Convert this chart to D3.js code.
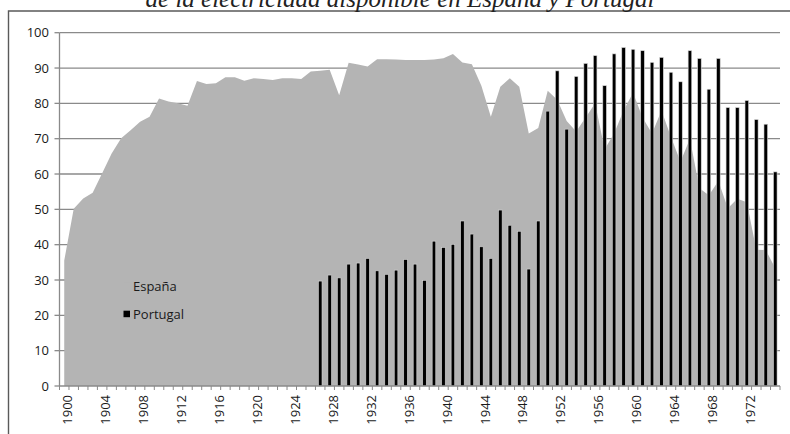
<!DOCTYPE html>
<html>
<head>
<meta charset="utf-8">
<script src="https://cdn.jsdelivr.net/npm/d3@7"></script>
<style>
  html, body { margin: 0; padding: 0; background: #fff; }
  svg { display: block; }
</style>
</head>
<body>
<svg id="chart" width="790" height="434"></svg>
<script>
// ---- DATA ----
const years = [1900,1901,1902,1903,1904,1905,1906,1907,1908,1909,
  1910,1911,1912,1913,1914,1915,1916,1917,1918,1919,
  1920,1921,1922,1923,1924,1925,1926,1927,1928,1929,
  1930,1931,1932,1933,1934,1935,1936,1937,1938,1939,
  1940,1941,1942,1943,1944,1945,1946,1947,1948,1949,
  1950,1951,1952,1953,1954,1955,1956,1957,1958,1959,
  1960,1961,1962,1963,1964,1965,1966,1967,1968,1969,
  1970,1971,1972,1973,1974,1975];

const espana = [35.5,50.2,53.1,54.7,60.2,65.8,70.1,72.4,74.8,76.2,
  81.4,80.5,80.0,79.3,86.3,85.5,85.7,87.4,87.4,86.4,
  87.1,86.9,86.6,87.1,87.1,86.9,89.0,89.2,89.5,82.3,
  91.5,91.0,90.4,92.5,92.5,92.4,92.3,92.3,92.3,92.4,
  92.8,94.0,91.6,91.1,85.0,76.2,84.7,87.1,84.7,71.5,
  73.0,83.6,81.0,75.0,72.0,76.0,80.0,67.0,71.5,78.0,
  83.0,76.0,71.5,78.0,70.5,63.5,70.0,56.0,54.0,58.0,
  50.3,53.0,52.0,38.6,38.5,33.3];

const portugalYears = [1927,1928,1929,1930,1931,1932,1933,1934,1935,1936,
  1937,1938,1939,1940,1941,1942,1943,1944,1945,1946,
  1947,1948,1949,1950,1951,1952,1953,1954,1955,1956,
  1957,1958,1959,1960,1961,1962,1963,1964,1965,1966,
  1967,1968,1969,1970,1971,1972,1973,1974,1975];

const portugal = [29.7,31.4,30.6,34.5,34.8,36.1,32.6,31.6,32.8,35.8,
  34.5,29.9,41.0,39.2,40.1,46.7,43.0,39.4,36.1,49.8,
  45.5,43.8,33.1,46.7,77.8,89.2,72.7,87.6,91.3,93.5,
  85.0,94.0,95.8,95.3,94.9,91.6,93.0,88.8,86.1,94.9,
  92.7,84.0,92.7,78.8,78.8,80.8,75.4,74.1,60.6];

const yTicks = [0,10,20,30,40,50,60,70,80,90,100];
const xTickLabels = [1900,1904,1908,1912,1916,1920,1924,1928,1932,1936,1940,1944,1948,1952,1956,1960,1964,1968,1972];
const titleText = "de la electricidad disponible en España y Portugal";
const seriesNames = ["España", "Portugal"];

// ---- LAYOUT ----
(function () {
const svg = d3.select("#chart");
const mLeft = 59.5, mRight = 780, mTop = 32.7, mBottom = 386;
const font = "'Open Sans', sans-serif";

const x = d3.scaleBand().domain(years).range([mLeft, mRight]).padding(0);
const cx = d => x(d) + x.bandwidth() / 2;
const y = d3.scaleLinear().domain([0, 100]).range([mBottom, mTop]);

// frame (partially visible)
svg.append("path")
  .attr("d", d3.line()([[8.5, 434], [8.5, 11], [790, 11]]))
  .attr("fill", "none").attr("stroke", "#5a5a5a").attr("stroke-width", 1.4);

// title (cut at top)
const title = svg.append("text")
  .attr("x", 400).attr("y", 7)
  .attr("text-anchor", "middle")
  .attr("font-family", "'Liberation Serif', 'DejaVu Serif', serif")
  .attr("font-style", "italic")
  .attr("font-size", 20)
  .attr("fill", "#222")
  .text(titleText);
const tl = title.node().getComputedTextLength();
title.attr("font-size", 20 * 509 / tl);

// gridlines
svg.append("g").selectAll("line").data(yTicks.filter(t => t > 0)).join("line")
  .attr("x1", mLeft).attr("x2", mRight)
  .attr("y1", d => y(d)).attr("y2", d => y(d))
  .attr("stroke", "#8a8a8a").attr("stroke-width", 1.3);

// España area
const area = d3.area()
  .x((d, i) => cx(years[i]))
  .y0(y(0))
  .y1(d => y(d))
  .curve(d3.curveLinear);
svg.append("path").datum(espana)
  .attr("d", area)
  .attr("fill", "#b4b4b4");

// Portugal bars
const bw = 3.6;
svg.append("g").selectAll("rect").data(portugal).join("rect")
  .attr("x", (d, i) => cx(portugalYears[i]) - bw / 2)
  .attr("y", d => y(d))
  .attr("width", bw)
  .attr("height", d => y(0) - y(d))
  .attr("fill", "#000")
  .attr("stroke", "#d6d6d6").attr("stroke-width", 0.6);

// Y axis
const yAxisG = svg.append("g");
yAxisG.append("line").attr("x1", mLeft).attr("x2", mLeft).attr("y1", mTop).attr("y2", mBottom)
  .attr("stroke", "#8a8a8a").attr("stroke-width", 1.3);
yAxisG.selectAll("line.tick").data(yTicks).join("line").attr("class", "tick")
  .attr("x1", mLeft - 5).attr("x2", mLeft).attr("y1", d => y(d)).attr("y2", d => y(d))
  .attr("stroke", "#8a8a8a").attr("stroke-width", 1.3);
yAxisG.selectAll("text").data(yTicks).join("text")
  .attr("x", 49).attr("y", d => y(d)).attr("dy", "0.36em")
  .attr("text-anchor", "end")
  .attr("font-family", font).attr("font-size", 13).attr("fill", "#1a1a1a")
  .text(d => d);

// X axis
const xAxisG = svg.append("g");
xAxisG.append("line").attr("x1", mLeft).attr("x2", mRight).attr("y1", mBottom).attr("y2", mBottom)
  .attr("stroke", "#8a8a8a").attr("stroke-width", 1.3);
const boundaries = years.map(d => x(d)).concat([mRight]);
xAxisG.selectAll("line.tick").data(boundaries).join("line").attr("class", "tick")
  .attr("x1", d => d).attr("x2", d => d).attr("y1", mBottom).attr("y2", mBottom + 4)
  .attr("stroke", "#8a8a8a").attr("stroke-width", 1);
xAxisG.selectAll("text").data(xTickLabels).join("text")
  .attr("transform", d => `translate(${cx(d) + 3.5},${mBottom + 9}) rotate(-90)`)
  .attr("dy", "0.36em")
  .attr("text-anchor", "end")
  .attr("font-family", font).attr("font-size", 13).attr("fill", "#1a1a1a")
  .text(d => d);

// Legend
const legend = svg.append("g");
const legendColors = ["#b4b4b4", "#000"];
const legendY = [286, 314];
legend.selectAll("rect").data(seriesNames).join("rect")
  .attr("x", 123.5).attr("y", (d, i) => legendY[i] - 3.3)
  .attr("width", 6.5).attr("height", 6.5)
  .attr("fill", (d, i) => legendColors[i]);
legend.selectAll("text").data(seriesNames).join("text")
  .attr("x", 133).attr("y", (d, i) => legendY[i]).attr("dy", "0.36em")
  .attr("font-family", font).attr("font-size", 13).attr("fill", "#1a1a1a")
  .text(d => d);
})();
</script>
</body>
</html>
